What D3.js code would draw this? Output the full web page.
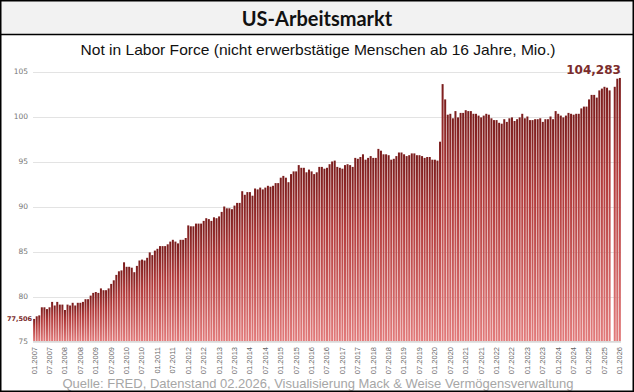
<!DOCTYPE html>
<html>
<head>
<meta charset="utf-8">
<script src="https://cdn.jsdelivr.net/npm/d3@7/dist/d3.min.js"></script>
<style>
  html, body { margin: 0; padding: 0; background: #fff; }
  svg { display: block; }
</style>
</head>
<body>
<svg id="chart" width="634" height="392"></svg>
<script>
// ---- DATA ----
const title = "US-Arbeitsmarkt";
const subtitle = "Not in Labor Force (nicht erwerbstätige Menschen ab 16 Jahre, Mio.)";
const source = "Quelle: FRED, Datenstand 02.2026, Visualisierung Mack & Weise Vermögensverwaltung";
const startYear = 2007, startMonth = 1, nMonths = 229;
const yTicks = [75, 80, 85, 90, 95, 100, 105];
// monthly values (Mio.), 01.2007 .. 01.2026; null = no data (10.2025)
const values = [
  77.506, 77.8, 77.9, 78.8, 78.8, 78.6, 78.8, 79.4, 79.0, 79.4, 79.1, 79.1,
  78.5, 79.1, 79.0, 79.3, 79.0, 79.3, 79.3, 79.4, 79.7, 79.7, 80.1, 80.4,
  80.5, 80.4, 80.9, 80.7, 80.7, 80.9, 81.4, 81.8, 82.4, 82.8, 82.9, 83.8,
  83.3, 83.3, 83.2, 82.7, 83.4, 84.0, 84.1, 84.0, 84.3, 84.9, 84.6, 85.1,
  85.3, 85.6, 85.6, 85.6, 85.8, 86.1, 86.3, 86.1, 85.9, 86.3, 86.3, 86.5,
  87.9, 87.8, 87.8, 88.1, 88.1, 88.1, 88.4, 88.7, 88.6, 88.4, 88.8, 88.7,
  88.9, 89.4, 90.0, 89.8, 89.8, 89.7, 90.1, 90.4, 90.4, 91.7, 91.3, 91.6,
  91.6, 91.2, 92.0, 91.9, 92.1, 91.9, 92.1, 92.3, 92.2, 92.3, 92.6, 92.6,
  93.2, 93.4, 93.2, 92.7, 93.6, 93.9, 93.9, 94.6, 94.3, 94.3, 93.8, 94.1,
  93.9, 93.6, 93.8, 94.4, 94.4, 94.2, 94.3, 94.7, 95.0, 95.1, 94.4, 94.3,
  94.2, 94.6, 94.7, 94.6, 94.4, 95.4, 95.3, 95.5, 95.8, 95.2, 95.4, 95.6,
  95.4, 95.4, 96.4, 96.2, 95.8, 95.8, 95.7, 95.2, 95.3, 95.6, 96.0, 96.0,
  95.8, 95.6, 95.7, 95.9, 95.9, 95.7, 95.7, 95.6, 95.4, 95.5, 95.5, 95.2,
  95.2, 95.1, 97.2, 103.6, 101.9, 100.2, 100.3, 99.8, 100.6, 99.9, 100.4, 100.4,
  100.7, 100.6, 100.6, 100.3, 100.3, 100.1, 99.9, 100.1, 100.3, 100.2, 99.8, 99.6,
  99.6, 99.3, 99.2, 99.7, 99.4, 99.8, 99.9, 99.5, 99.7, 99.9, 100.3, 99.8,
  100.0, 99.6, 99.6, 99.7, 99.7, 99.8, 99.4, 99.7, 99.7, 100.0, 99.7, 100.6,
  100.3, 100.1, 99.9, 100.1, 100.4, 100.3, 100.2, 100.3, 100.3, 100.9, 101.1, 101.1,
  101.9, 102.4, 102.4, 102.1, 102.9, 103.1, 103.3, 103.2, 102.9, null, 103.3, 104.2,
  104.283
];
const firstLabel = "77,506";
const lastLabel = "104,283";

// ---- categories ----
const categories = d3.range(nMonths).map(i => {
  const m = (startMonth - 1 + i) % 12 + 1;
  const y = startYear + Math.floor((startMonth - 1 + i) / 12);
  return String(m).padStart(2, "0") + "." + y;
});
const tickLabels = categories.filter((c, i) => i % 6 === 0);
const data = categories.map((c, i) => ({ c, v: values[i] }));

// ---- LAYOUT ----
const W = 634, H = 392;
const svg = d3.select("#chart");

// gradient
const defs = svg.append("defs");
const g = defs.append("linearGradient").attr("id", "barGrad")
  .attr("x1", 0).attr("y1", 0).attr("x2", 0).attr("y2", 1);
g.append("stop").attr("offset", "0%").attr("stop-color", "#7a1c1c");
g.append("stop").attr("offset", "35%").attr("stop-color", "#b13a3a");
g.append("stop").attr("offset", "100%").attr("stop-color", "#e27b7b");

// title band
svg.append("rect").attr("x", 0).attr("y", 0).attr("width", W).attr("height", 34).attr("fill", "#f2f2f2");
svg.append("line").attr("x1", 0).attr("x2", W).attr("y1", 34.5).attr("y2", 34.5).attr("stroke", "#000").attr("stroke-width", 1.5);
svg.append("text").attr("x", 317).attr("y", 25.5).attr("text-anchor", "middle")
  .attr("font-family", "Lato, 'Open Sans', sans-serif").attr("font-weight", "bold")
  .attr("font-size", 20).attr("fill", "#111").text(title);
svg.append("text").attr("x", 318).attr("y", 55).attr("text-anchor", "middle")
  .attr("font-family", "'Liberation Sans', Arial, sans-serif")
  .attr("font-size", 15).attr("fill", "#111")
  .attr("textLength", 475).attr("lengthAdjust", "spacingAndGlyphs").text(subtitle);

// scales
const x = d3.scaleBand().domain(categories).range([33, 621]).paddingInner(0.22).paddingOuter(0.05);
const y = d3.scaleLinear().domain([75, 105]).range([341.5, 71.5]);

// gridlines
svg.append("g").selectAll("line").data(yTicks).join("line")
  .attr("x1", 33).attr("x2", 621)
  .attr("y1", d => Math.round(y(d)) + 0.5).attr("y2", d => Math.round(y(d)) + 0.5)
  .attr("stroke", "#e3e3e3").attr("stroke-width", 1);

// y axis labels
const yAxis = d3.axisLeft(y).tickValues(yTicks).tickSize(0).tickPadding(0).tickFormat(d3.format("d"));
const ya = svg.append("g").attr("transform", "translate(28,0)").call(yAxis);
ya.select(".domain").remove();
ya.selectAll("text").attr("font-family", "'DejaVu Sans', sans-serif").attr("font-size", 7.5).attr("fill", "#777");

// bars
svg.append("g").selectAll("rect").data(data.filter(d => d.v != null)).join("rect")
  .attr("x", d => x(d.c)).attr("width", x.bandwidth())
  .attr("y", d => y(d.v)).attr("height", d => y(75) - y(d.v))
  .attr("fill", "url(#barGrad)");

// baseline
svg.append("line").attr("x1", 33).attr("x2", 621).attr("y1", 341.5).attr("y2", 341.5).attr("stroke", "#d9d9d9");

// x axis
const xAxis = d3.axisBottom(x).tickValues(tickLabels).tickSize(0).tickPadding(0);
const xa = svg.append("g").attr("transform", "translate(0,344)").call(xAxis);
xa.select(".domain").remove();
xa.selectAll("text")
  .attr("font-family", "'Liberation Sans', Arial, sans-serif").attr("font-size", 7.5).attr("fill", "#666")
  .attr("text-anchor", "end").attr("dy", "0.32em").attr("dx", 0).attr("y", 0)
  .attr("transform", "rotate(-90) translate(-3,0)");

// value labels
const first = data[0], last = data[data.length - 1];
svg.append("text").attr("x", 32).attr("y", y(first.v) + 2.5).attr("text-anchor", "end")
  .attr("font-family", "'DejaVu Sans', sans-serif").attr("font-weight", "bold")
  .attr("font-size", 6.5).attr("fill", "#7b2c2c").text(firstLabel);
svg.append("text").attr("x", x(last.c) + x.bandwidth()).attr("y", y(last.v) - 4).attr("text-anchor", "end")
  .attr("font-family", "'DejaVu Sans', sans-serif").attr("font-weight", "bold")
  .attr("font-size", 12).attr("fill", "#7b2c2c").text(lastLabel);

// source
svg.append("text").attr("x", 318).attr("y", 388).attr("text-anchor", "middle")
  .attr("font-family", "'Liberation Sans', Arial, sans-serif").attr("font-size", 13.5).attr("fill", "#a6a6a6")
  .attr("textLength", 511).attr("lengthAdjust", "spacingAndGlyphs").text(source);

// outer border
svg.append("rect").attr("x", 0.75).attr("y", 0.75).attr("width", W - 1.5).attr("height", H - 1.5)
  .attr("fill", "none").attr("stroke", "#000").attr("stroke-width", 1.5);
</script>
</body>
</html>
